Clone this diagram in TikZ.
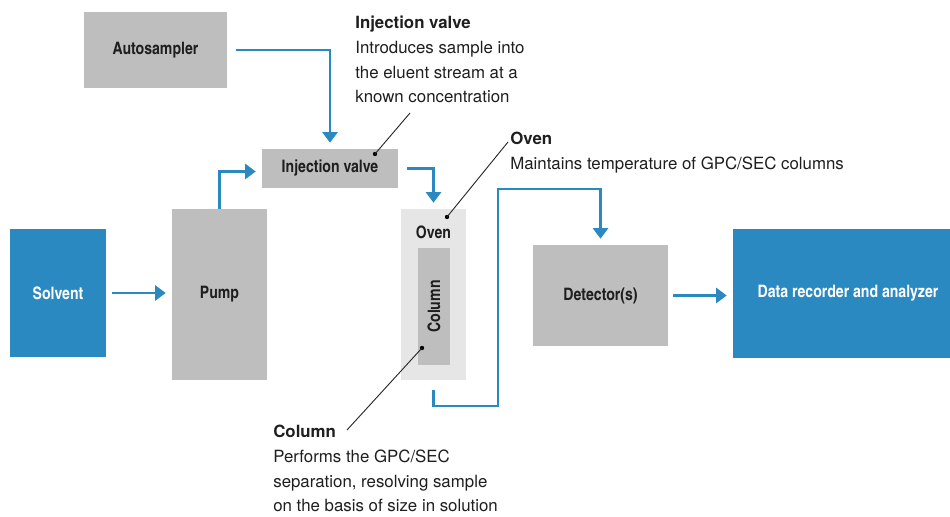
\documentclass[tikz,border=0pt]{standalone}
\usepackage{fontspec}
\setmainfont{texgyreheros}[Extension=.otf, UprightFont=*-regular, BoldFont=*-bold]
\newfontfamily\condfont{texgyreheroscn}[Extension=.otf, UprightFont=*-regular, BoldFont=*-bold]
\usetikzlibrary{positioning,arrows.meta}

\definecolor{gpcblue}{HTML}{2A89C0}
\definecolor{gpcgray}{HTML}{BEBEBE}
\definecolor{ovengray}{HTML}{E6E6E6}
\definecolor{textgray}{HTML}{1E1E1E}

\begin{document}
\begin{tikzpicture}[
    x=0.6pt, y=-0.6pt,
    font=\fontsize{10.1}{14.8}\selectfont,
    text=textgray,
    unit/.style={
        fill=#1,
        inner sep=0pt,
        align=center,
        font=\condfont\fontsize{10.3}{12}\selectfont\bfseries
    },
    graybox/.style={unit=gpcgray},
    bluebox/.style={unit=gpcblue, text=white},
    flow/.style={
        -{Triangle[length=6.3pt, width=9pt]},
        line width=1.4pt,
        draw=gpcblue,
        shorten >=3.6pt
    },
    callout/.style={draw=black!85, line width=0.55pt},
    dot/.style={circle, fill=black, inner sep=0pt, minimum size=2.6pt},
    note/.style={anchor=north west, inner sep=0pt, align=left}
]

\useasboundingbox (0,0) rectangle (950,517);

% units of the system
\node[bluebox, minimum width=57.6pt, minimum height=76.8pt] (solvent) at (58,293) {Solvent};
\node[graybox, minimum width=57pt, minimum height=102.6pt] (pump) at (219.5,294.5) {Pump};
\node[graybox, minimum width=85.8pt, minimum height=45.6pt] (autosampler) at (155.5,50) {Autosampler};
\node[graybox, minimum width=81.6pt, minimum height=23.4pt] (injvalve) at (330,168.5) {Injection valve};
\node[unit=ovengray, minimum width=39pt, minimum height=102.6pt] (oven) at (433.5,294.5) {};
\node[unit=ovengray] (ovenlabel) at (433.5,232) {Oven};
\node[graybox, rotate=90, minimum width=70.2pt, minimum height=19.2pt] (column) at (434,306.5) {Column};
\node[graybox, minimum width=81pt, minimum height=60.6pt] (detector) at (600.5,295.5) {Detector(s)};
\node[bluebox, minimum width=138pt, minimum height=77.4pt] (recorder) at (848,293.5) {Data recorder and analyzer};

% flow of the eluent
\coordinate (loopup) at (498,189);
\draw[flow, shorten <=3.6pt] (solvent.east) -- (solvent.east -| pump.west);
\draw[flow] (pump.north) |- ([yshift=-1.8pt]injvalve.west);
\draw[flow, shorten <=5.4pt] (autosampler.east) -| (injvalve.north);
\draw[flow, shorten <=5.4pt] (injvalve.east) -| (oven.north);
\draw[flow, shorten <=6pt] (oven.south) -- ++(0,26) -| (loopup) -| (detector.north);
\draw[flow, shorten <=3pt] (detector.east) -- (detector.east -| recorder.west);

% notes
\node[note] (injnote) at (355,16) {\textbf{Injection valve}\\Introduces sample into\\the eluent stream at a\\known concentration};
\node[note] (ovennote) at (510,132) {\textbf{Oven}\\Maintains temperature of GPC/SEC columns};
\node[note] (colnote) at (273,425) {\textbf{Column}\\Performs the GPC/SEC\\separation, resolving sample\\on the basis of size in solution};

% callout lines
\node[dot] (injdot) at (375,154) {};
\node[dot] (ovendot) at (447,217) {};
\node[dot] (coldot) at (422,348) {};
\coordinate (injend) at (410,113);
\coordinate (ovenend) at (508,142);
\coordinate (colend) at (347,430);
\draw[callout] (injdot.center) -- (injend);
\draw[callout] (ovendot.center) -- (ovenend);
\draw[callout] (coldot.center) -- (colend);

\end{tikzpicture}
\end{document}
